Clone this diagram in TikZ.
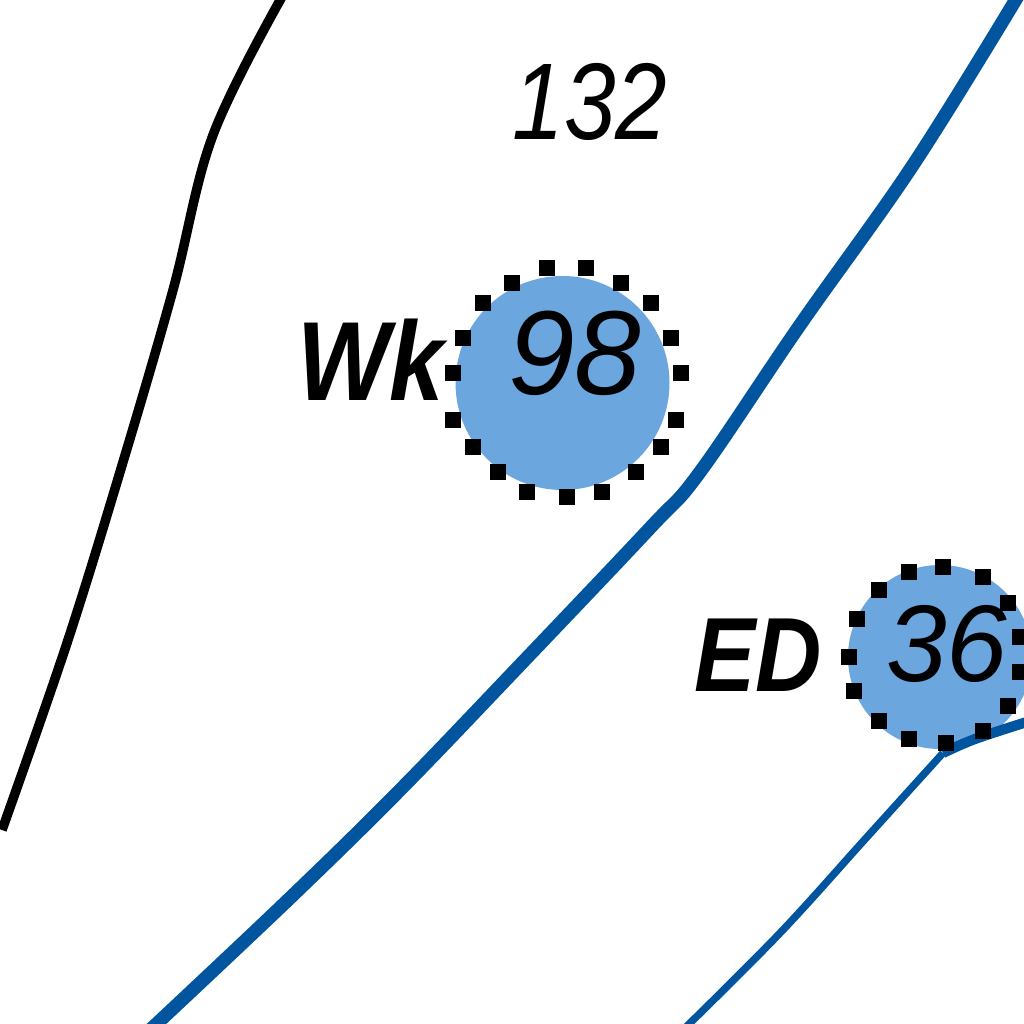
\documentclass[tikz,border=0pt]{standalone}
\usepackage{fontspec}
\setmainfont{Liberation Sans}
\definecolor{wblue}{HTML}{00559E}
\definecolor{lblue}{HTML}{6CA6DE}
\tikzset{
  dotmark/.style={fill=black,draw=none,minimum size=4.3pt,inner sep=0pt,outer sep=0pt},
  contour/.style={draw=black,line width=2.7pt},
  mainriver/.style={draw=wblue,line width=3.8pt},
  sideriver/.style={draw=wblue,line width=2.1pt},
  sideriverwide/.style={draw=wblue,line width=2.9pt},
  pond/.style={fill=lblue,draw=none},
  lab/.style={inner sep=0pt,outer sep=0pt},
}
\begin{document}
\begin{tikzpicture}[x=0.01cm,y=-0.01cm]
\useasboundingbox (0,0) rectangle (1024,1024);
\clip (0,0) rectangle (1024,1024);
\fill[white] (0,0) rectangle (1024,1024);
\draw[contour] plot[smooth,tension=0.6] coordinates {(283,-5) (213,135) (173,290) (123,462) (67,643) (2,830)};
\fill[pond] (562.5,383) circle (107);
\fill[pond] (940,657) circle (92);
\draw[mainriver] plot[smooth,tension=0.6] coordinates {(1018,-4) (913,165) (800,325) (700,472) (650,528) (520,665) (400,790) (290,898) (150,1030)};
\draw[sideriverwide] plot[smooth,tension=0.6] coordinates {(1030,721) (975,739) (943,753)};
\draw[sideriver] plot[smooth,tension=0.6] coordinates {(943,753) (867,837) (780,933) (685,1028)};
\foreach \p in {(547,268),(586,268),(621,283),(651,303),(671,338),(681,373),(676,420),(661,447),(636,472),(602,492),(567,497),(527,492),(498,472),(473,447),(453,420),(453,373),(463,338),(483,303),(512,283),(909,572),(943,567),(983,577),(1008,603),(879,590),(857,619),(849,657),(854,691),(879,721),(909,739),(946,743),(983,731),(1008,706),(1020,637),(1020,672)}
  \node[dotmark] at \p {};
\node[lab,xscale=0.85] (n132) at (590,102) {\itshape\fontsize{31pt}{31pt}\selectfont 132};
\node[lab,xscale=0.87] (nWk) at (371,360) {\itshape\bfseries\fontsize{32pt}{32pt}\selectfont Wk};
\node[lab] (n98) at (575,353) {\itshape\fontsize{34pt}{34pt}\selectfont 98};
\node[lab,xscale=0.87] (nED) at (758,655) {\itshape\bfseries\fontsize{30pt}{30pt}\selectfont ED};
\node[lab] (n36) at (947,644) {\itshape\fontsize{31pt}{31pt}\selectfont 36};
\end{tikzpicture}
\end{document}
